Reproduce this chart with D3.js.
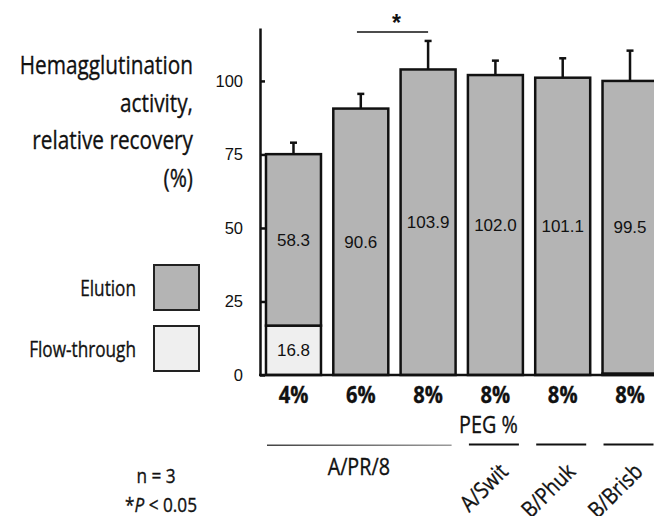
<!DOCTYPE html>
<html>
<head>
<meta charset="utf-8">
<script src="https://cdn.jsdelivr.net/npm/d3@7"></script>
<style>
  body { margin: 0; background: #fff; }
  svg { display: block; }
</style>
</head>
<body>
<svg id="chart" width="654" height="516"></svg>
<script>
// PEG concentration per bar, virus strain per bar
const pegLabels = ["4%", "6%", "8%", "8%", "8%", "8%"];
const strains = ["A/PR/8", "A/PR/8", "A/PR/8", "A/Swit", "B/Phuk", "B/Brisb"];
// relative HA recovery (%)
const elution = [58.3, 90.6, 103.9, 102.0, 101.1, 99.5];
const flowThrough = [16.8, 0, 0, 0, 0, 0.5];
const errorSD = [3.9, 5.0, 9.7, 4.9, 6.6, 10.3];
const yTicks = [0, 25, 50, 75, 100];
const titleLines = ["Hemagglutination", "activity,", "relative recovery", "(%)"];
const legendItems = ["Elution", "Flow-through"];
const legendFills = ["#b4b4b4", "#efefef"];
const sigPair = [1, 2];

const W = 654, H = 516;
const svg = d3.select("#chart");
const condFont = "'Open Sans', 'Noto Sans', sans-serif";
const numFont = "'Liberation Sans', Arial, sans-serif";
const ink = "#111";

// condensed text: a normal face squeezed horizontally
function ctext(parent, tx, ty, size, k, anchor, extra) {
  const g = parent.append("g")
    .attr("transform", `translate(${tx},${ty})${extra || ""} scale(${k},1)`);
  return g.append("text").attr("x", 0).attr("y", 0)
    .attr("font-family", condFont).attr("font-size", size).attr("font-weight", 500)
    .attr("fill", ink).attr("stroke", ink).attr("stroke-width", 0.35)
    .attr("text-anchor", anchor);
}

const idx = d3.range(elution.length);
const x = d3.scaleBand().domain(idx).range([260, 663.5]).paddingInner(0.183).paddingOuter(0.089);
const y = d3.scaleLinear().domain([0, 118]).range([375, 28]);
const cxOf = i => x(i) + x.bandwidth() / 2;

// bars: flow-through at the bottom, elution stacked above
const bars = svg.append("g");
bars.selectAll("rect.ft").data(idx.filter(i => flowThrough[i] > 0)).join("rect")
  .attr("class", "ft")
  .attr("x", i => x(i)).attr("width", x.bandwidth())
  .attr("y", i => y(flowThrough[i])).attr("height", i => y(0) - y(flowThrough[i]))
  .attr("fill", "#efefef").attr("stroke", ink).attr("stroke-width", 2.5);
bars.selectAll("rect.el").data(idx).join("rect")
  .attr("class", "el")
  .attr("x", i => x(i)).attr("width", x.bandwidth())
  .attr("y", i => y(flowThrough[i] + elution[i]))
  .attr("height", i => y(flowThrough[i]) - y(flowThrough[i] + elution[i]))
  .attr("fill", "#b4b4b4").attr("stroke", ink).attr("stroke-width", 2.5);

// error bars (upper whisker only)
const err = svg.append("g").attr("stroke", ink).attr("stroke-width", 2.5);
idx.forEach(i => {
  const top = flowThrough[i] + elution[i];
  err.append("line").attr("x1", cxOf(i)).attr("x2", cxOf(i))
    .attr("y1", y(top)).attr("y2", y(top + errorSD[i]));
  err.append("line").attr("x1", cxOf(i) - 3.5).attr("x2", cxOf(i) + 3.5)
    .attr("y1", y(top + errorSD[i])).attr("y2", y(top + errorSD[i]));
});

// value labels centred in each segment
const valLab = svg.append("g").attr("font-family", numFont).attr("font-size", 17)
  .attr("fill", ink).attr("text-anchor", "middle");
idx.forEach(i => {
  valLab.append("text").attr("x", cxOf(i))
    .attr("y", y(flowThrough[i] + elution[i] / 2)).attr("dy", "0.36em")
    .text(elution[i].toFixed(1));
  if (flowThrough[i] > 5) {
    valLab.append("text").attr("x", cxOf(i))
      .attr("y", y(flowThrough[i] / 2)).attr("dy", "0.36em")
      .text(flowThrough[i].toFixed(1));
  }
});

// axes
const yAxis = d3.axisLeft(y).tickValues(yTicks).tickSize(-5).tickSizeOuter(0).tickPadding(17);
const ya = svg.append("g").attr("transform", "translate(260,0)").call(yAxis);
ya.select(".domain").attr("stroke", ink).attr("stroke-width", 2.5);
ya.selectAll(".tick line").attr("stroke", ink).attr("stroke-width", 2.5);
ya.selectAll(".tick text").attr("font-family", numFont).attr("font-size", 16.5).attr("fill", ink);
svg.append("line").attr("x1", 259).attr("x2", W).attr("y1", y(0)).attr("y2", y(0))
  .attr("stroke", ink).attr("stroke-width", 2.5);

// significance bracket
const sx1 = x(sigPair[0]) + x.bandwidth() * 0.43;
const sx2 = x(sigPair[1]) + x.bandwidth() * 0.5;
svg.append("line").attr("x1", sx1).attr("x2", sx2).attr("y1", 32).attr("y2", 32)
  .attr("stroke", ink).attr("stroke-width", 1.5);
svg.append("text").attr("x", (sx1 + sx2) / 2 + 4).attr("y", 31)
  .attr("text-anchor", "middle").attr("font-family", numFont).attr("font-weight", "bold")
  .attr("font-size", 23).attr("fill", ink).text("*");

// y title
const title = svg.append("g");
titleLines.forEach((t, j) => {
  ctext(title, 193, 74 + j * 37.5, 26, 0.8, "end").text(t);
});

// legend
const leg = svg.append("g");
legendItems.forEach((t, j) => {
  const ly = 265 + j * 61;
  leg.append("rect").attr("x", 154).attr("y", ly).attr("width", 45).attr("height", 45)
    .attr("fill", legendFills[j]).attr("stroke", "#222").attr("stroke-width", 2);
  ctext(leg, 136, ly + 31, 21.5, 0.8, "end").text(t);
});

// PEG % category labels
const cat = svg.append("g");
idx.forEach(i => {
  ctext(cat, cxOf(i), 403, 24, 0.84, "middle").attr("font-weight", "bold").text(pegLabels[i]);
});
ctext(svg, cxOf(3) - 7, 433, 23.5, 0.84, "middle").text("PEG %");

// strain groups: underline + name
const groups = [];
strains.forEach((s, i) => {
  const g = groups[groups.length - 1];
  if (g && g.name === s) g.last = i; else groups.push({ name: s, first: i, last: i });
});
const defs = svg.append("defs");
const grad = defs.append("linearGradient").attr("id", "fade");
grad.append("stop").attr("offset", "0%").attr("stop-color", "#444");
grad.append("stop").attr("offset", "100%").attr("stop-color", "#9a9a9a");

const strainG = svg.append("g");
groups.forEach(g => {
  const x1 = x(g.first) + 1, x2 = x(g.last) + x.bandwidth() - 4;
  const multi = g.last > g.first;
  strainG.append("rect").attr("x", x1).attr("width", x2 - x1)
    .attr("y", multi ? 444.5 : 443.5).attr("height", multi ? 1.5 : 2)
    .attr("fill", multi ? "url(#fade)" : ink);
  if (multi) {
    ctext(strainG, (x(g.first) + x(g.last) + x.bandwidth()) / 2 - 2, 475, 23.5, 0.84, "middle")
      .text(g.name);
  } else {
    ctext(strainG, cxOf(g.first) + 14, 473, 22.5, 0.86, "end", " rotate(-45)").text(g.name);
  }
});

// footnote
ctext(svg, 156, 483, 20.5, 0.84, "middle").text("n = 3");
const p = ctext(svg, 161, 512, 20.5, 0.84, "middle");
p.append("tspan").text("*");
p.append("tspan").attr("font-style", "italic").text("P");
p.append("tspan").text(" < 0.05");
</script>
</body>
</html>
